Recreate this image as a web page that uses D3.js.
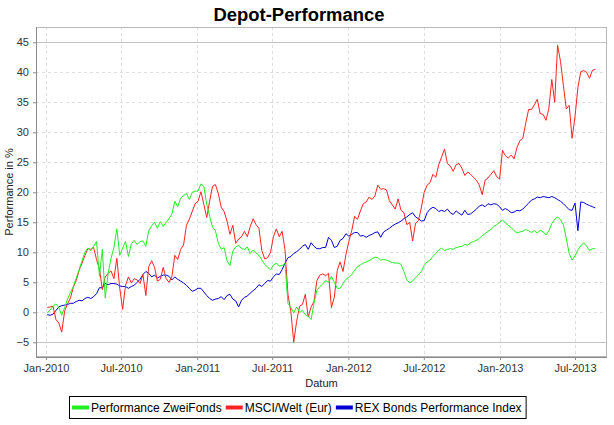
<!DOCTYPE html>
<html><head><meta charset="utf-8">
<script src="https://cdn.jsdelivr.net/npm/d3@7"></script>
<style>
html,body{margin:0;padding:0;background:#fff;}
svg{display:block;font-family:"Liberation Sans",Arial,sans-serif;}
</style></head>
<body>
<svg id="chart" width="614" height="425"></svg>
<script>
// ---- data (weekly samples, starting Mon 4 Jan 2010) ----
const seriesNames = ["Performance ZweiFonds", "MSCI/Welt (Eur)", "REX Bonds Performance Index"];
const seriesColors = ["#22ee22", "#ff2222", "#0000d4"];
const firstWeek = new Date(2010, 0, 4);

const green = [-0.1,0.4,1.0,1.4,0.8,-0.5,0.8,2.2,3.3,4.3, 5.7,7.1,8.6,10.0,10.7,10.3,11.0,11.8,6.0,10.5,
  2.4,6.5,9.0,10.8,13.9,9.5,10.7,11.8,9.3,11.4, 12.0,11.3,11.8,11.9,11.0,13.6,14.4,15.0,14.0,15.1,
  14.3,15.0,15.6,16.4,18.5,17.6,19.0,19.5,19.8,18.8, 20.0,20.2,20.2,21.4,21.0,18.0,16.0,14.2,13.6,11.5,
  10.5,10.8,8.6,7.8,10.2,10.9,11.2,10.6,10.5,10.9, 9.8,10.4,9.9,9.5,8.7,8.0,7.5,7.1,7.9,8.2,
  7.7,7.8,8.2,1.5,0.8,-0.1,0.9,0.0,0.3,-0.4, -0.6,-1.2,1.5,3.7,4.3,4.7,5.3,5.0,6.0,5.0,
  4.0,4.0,4.8,5.5,5.8,6.3,7.0,7.6,7.9,8.2, 8.4,8.6,8.9,9.2,9.1,8.7,8.8,8.7,8.5,8.3,
  8.2,8.2,8.0,6.8,5.4,4.9,5.2,5.8,6.2,6.8, 7.8,8.4,8.7,9.3,9.8,10.4,10.7,10.3,10.5,10.6,
  10.5,10.8,10.9,11.0,11.3,11.2,11.6,11.8,12.0,12.3, 12.8,13.1,13.5,13.8,14.3,14.6,15.0,15.4,14.9,14.5,
  14.1,13.6,13.2,13.4,13.5,13.8,13.6,13.3,13.6,13.2, 13.7,13.4,12.9,13.6,14.8,15.5,15.9,15.4,14.6,12.3,
  9.8,8.7,9.4,10.4,11.1,11.6,11.0,10.3,10.6,10.6];

const red = [0.8,0.9,1.0,-1.2,-1.8,-3.3,0.2,1.4,2.4,4.2, 5.3,7.0,8.2,9.5,10.6,10.5,10.8,8.8,7.2,3.8,
  5.9,6.5,6.9,5.6,9.0,4.0,0.5,4.5,5.9,4.9, 5.6,5.4,4.8,6.3,2.8,7.6,8.6,7.5,5.2,5.5,
  7.5,5.6,5.0,6.0,9.5,8.8,10.5,11.2,14.5,15.5, 16.8,18.1,18.5,20.1,18.0,15.8,18.5,21.0,21.3,19.8,
  17.5,16.8,15.2,13.0,14.5,11.5,12.2,12.6,13.5,12.6, 14.3,15.6,14.6,14.0,10.3,8.9,9.1,10.0,12.6,13.9,
  12.6,13.5,10.4,3.0,0.2,-5.0,-1.5,1.0,1.3,3.0, -0.8,0.9,1.8,5.3,6.2,6.4,6.1,6.5,0.8,2.5,
  7.0,8.4,6.8,9.6,11.8,13.6,16.0,15.5,16.9,18.1, 18.4,19.2,18.8,19.4,21.2,20.5,20.6,20.4,18.6,17.9,
  17.2,18.9,17.0,16.6,14.6,15.0,11.9,14.8,15.3,17.4, 20.0,21.2,21.6,23.0,22.5,24.6,25.9,27.2,24.8,24.4,
  23.5,24.6,24.8,24.0,22.8,23.4,23.0,22.5,22.0,21.2, 19.6,22.0,22.4,23.0,23.6,22.6,22.2,27.0,26.1,25.7,
  26.2,25.6,27.5,28.6,29.0,31.5,33.8,33.8,34.6,35.5, 33.1,33.0,32.0,34.0,38.8,35.0,44.5,41.8,37.8,33.9,
  34.5,29.0,32.6,37.5,40.1,40.3,40.0,39.0,40.3,40.5];

const blue = [-0.4,-0.5,-0.3,0.3,0.9,1.1,1.2,1.3,1.5,1.5, 1.8,2.0,1.9,2.3,2.5,2.3,2.6,3.1,4.1,4.1,
  4.8,4.6,4.8,4.8,4.7,4.4,4.3,4.3,4.0,4.3, 4.5,5.0,5.5,6.3,6.8,6.5,5.9,6.2,5.7,6.0,
  6.2,6.2,6.0,5.4,5.9,5.5,5.2,4.9,4.5,4.0, 3.5,3.7,4.0,4.0,3.4,2.8,2.3,2.0,2.2,2.3,
  2.6,2.1,2.8,3.0,2.2,1.9,0.9,2.0,2.5,2.7, 3.2,3.6,4.0,4.6,4.3,4.8,5.3,5.2,5.9,6.4,
  6.3,7.1,8.2,9.1,9.3,9.8,10.1,10.5,11.0,11.3, 10.5,11.6,11.0,10.6,10.6,10.8,10.8,12.5,12.0,10.8,
  11.0,12.0,12.3,13.1,12.7,13.0,13.3,13.3,12.7,12.8, 12.5,12.8,13.0,13.3,13.4,12.5,13.4,13.7,14.0,14.4,
  14.7,14.9,15.2,15.6,15.9,16.3,16.6,15.9,15.6,15.2, 15.3,16.6,17.2,17.5,17.3,16.8,17.0,16.8,17.2,16.6,
  16.3,16.9,16.5,16.2,17.0,16.3,16.4,16.8,17.2,17.7, 17.9,17.6,18.1,17.9,18.1,18.0,17.6,17.0,17.3,17.0,
  16.6,16.7,17.0,16.9,17.2,17.7,18.2,18.7,18.9,19.2, 19.1,19.3,19.2,19.1,19.3,19.1,18.8,18.5,18.1,17.6,
  17.1,17.0,18.2,13.6,18.4,18.3,18.0,17.8,17.6,17.4];

const yTicks = [-5,0,5,10,15,20,25,30,35,40,45];
const xTickDates = [new Date(2010,0,1),new Date(2010,6,1),new Date(2011,0,1),new Date(2011,6,1),
                    new Date(2012,0,1),new Date(2012,6,1),new Date(2013,0,1),new Date(2013,6,1)];

// ---- layout ----
const svg = d3.select("#chart");
const plot = {left:36, right:607, top:27, bottom:357};

const x = d3.scaleTime().domain([new Date(2010,0,1), new Date(2013,6,1)]).range([46, 575]);
const y = d3.scaleLinear().domain([-5, 45]).range([342.3, 42.3]);

const dates = green.map((_, i) => d3.timeDay.offset(firstWeek, 7*i));
const allSeries = [green, red, blue];

svg.append("rect").attr("width",614).attr("height",425).attr("fill","#fff");

// title
svg.append("text").attr("x",299).attr("y",21).attr("text-anchor","middle")
  .attr("font-size",18).attr("font-weight","bold").attr("fill","#000")
  .attr("textLength",171).attr("lengthAdjust","spacingAndGlyphs")
  .text("Depot-Performance");

// plot background
svg.append("rect").attr("x",plot.left).attr("y",plot.top)
  .attr("width",plot.right-plot.left).attr("height",plot.bottom-plot.top).attr("fill","#fff");

// gridlines
const grid = svg.append("g");
xTickDates.forEach(d => {
  grid.append("line").attr("x1",Math.round(x(d))+0.5).attr("x2",Math.round(x(d))+0.5)
    .attr("y1",plot.top).attr("y2",plot.bottom)
    .attr("stroke","#dedede").attr("stroke-dasharray","3,3");
});
yTicks.forEach(v => {
  const yy = Math.round(y(v))+0.5;
  const solid = (v === 45 || v === -5);
  grid.append("line").attr("x1",plot.left).attr("x2",plot.right).attr("y1",yy).attr("y2",yy)
    .attr("stroke", solid ? "#c4c4c4" : "#dedede")
    .attr("stroke-dasharray", solid ? null : "3,3");
});

// plot outline (top/right)
svg.append("rect").attr("x",plot.left+0.5).attr("y",plot.top+0.5)
  .attr("width",plot.right-plot.left-1).attr("height",plot.bottom-plot.top-1)
  .attr("fill","none").attr("stroke","#b8b8b8");

// series lines
svg.append("defs").append("clipPath").attr("id","clip").append("rect")
  .attr("x",plot.left).attr("y",plot.top).attr("width",plot.right-plot.left).attr("height",plot.bottom-plot.top);
const line = d3.line().x((d,i) => x(dates[i])).y(d => y(d));
const gLines = svg.append("g").attr("clip-path","url(#clip)");
[2,1,0].forEach(s => {
  gLines.append("path").datum(allSeries[s]).attr("d", line)
    .attr("fill","none").attr("stroke",seriesColors[s]).attr("stroke-width",1)
    .attr("stroke-linejoin","round");
});

// axes
const xAxis = d3.axisBottom(x).tickValues(xTickDates).tickFormat(d3.timeFormat("%b-%Y"))
  .tickSizeInner(3).tickSizeOuter(0).tickPadding(4);
const gx = svg.append("g").attr("transform",`translate(0,${plot.bottom})`).call(xAxis);
gx.select(".domain").attr("d",`M${plot.left},0.5H${plot.right}`).attr("stroke","#8a8a8a");
gx.selectAll(".tick line").attr("stroke","#8a8a8a");
gx.selectAll(".tick text").attr("font-size",11).attr("fill","#333")
  .attr("font-family","'Liberation Sans',Arial,sans-serif");

const yAxis = d3.axisLeft(y).tickValues(yTicks).tickSizeInner(3).tickSizeOuter(0).tickPadding(4);
const gy = svg.append("g").attr("transform",`translate(${plot.left},0)`).call(yAxis);
gy.select(".domain").attr("d",`M0.5,${plot.top}V${plot.bottom}`).attr("stroke","#8a8a8a");
gy.selectAll(".tick line").attr("stroke","#8a8a8a");
gy.selectAll(".tick text").attr("font-size",11).attr("fill","#333")
  .attr("font-family","'Liberation Sans',Arial,sans-serif");

// axis labels
svg.append("text").attr("x",(plot.left+plot.right)/2).attr("y",387).attr("text-anchor","middle")
  .attr("font-size",11).attr("fill","#222").text("Datum");
svg.append("text").attr("transform",`translate(12.5,${(plot.top+plot.bottom)/2}) rotate(-90)`)
  .attr("text-anchor","middle").attr("font-size",11).attr("fill","#222").text("Performance in %");

// legend
const leg = svg.append("g");
const box = leg.append("rect").attr("fill","#fff").attr("stroke","#000");
let cx = 0;
seriesNames.forEach((n, i) => {
  const g = leg.append("g");
  g.append("line").attr("x1",cx+1).attr("x2",cx+18).attr("y1",0).attr("y2",0)
    .attr("stroke",seriesColors[i]).attr("stroke-width",4);
  const t = g.append("text").attr("x",cx+20).attr("y",4.3).attr("font-size",12).attr("fill","#000").text(n);
  cx = cx + 20 + t.node().getComputedTextLength() + 3;
});
const legW = cx + 2;
const legX = Math.round(299 - legW/2);
leg.attr("transform",`translate(${legX},407.5)`);
box.attr("x",-1.5).attr("y",-11).attr("width",legW+1).attr("height",22);
</script>
</body></html>
